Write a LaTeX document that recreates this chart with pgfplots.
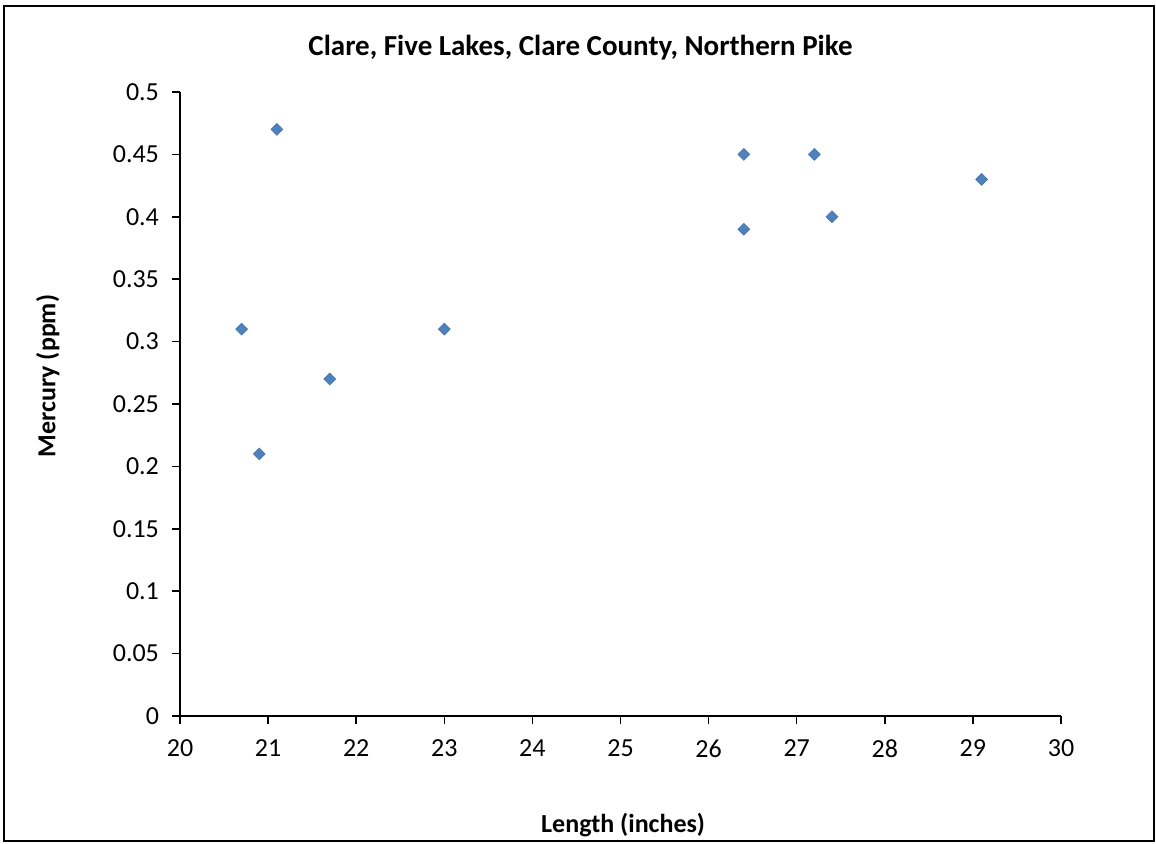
\documentclass[border=0pt]{standalone}
\usepackage{pgfplots}
\pgfplotsset{compat=1.18}
\usepackage{fontspec}
\setmainfont{Carlito}

\definecolor{ptblue}{HTML}{4F81BD}

\begin{document}
\begin{tikzpicture}
\begin{axis}[
    name=ax,
    scale only axis,
    width=440.5pt, height=312pt,
    xmin=20, xmax=30, ymin=0, ymax=0.5,
    xtick={20,21,...,30},
    ytick={0,0.05,...,0.5},
    yticklabels={0,0.05,0.1,0.15,0.2,0.25,0.3,0.35,0.4,0.45,0.5},
    axis x line*=bottom, axis y line*=left,
    axis line style={black, line width=0.75pt, -},
    tick style={black, line width=0.75pt},
    tick align=outside,
    major tick length=4pt,
    tick label style={font=\fontsize{13}{15}\selectfont},
    /pgf/number format/assume math mode=true,
    xticklabel style={yshift=-4.5pt},
    yticklabel style={xshift=-3pt},
    title={\textbf{Clare, Five Lakes, Clare County, Northern Pike}},
    title style={font=\fontsize{14.5}{17}\selectfont, at={(0.5,1)}, anchor=base, yshift=12pt, xshift=-20pt},
    xlabel={\textbf{Length (inches)}},
    ylabel={\textbf{Mercury (ppm)}},
    label style={font=\fontsize{13}{15}\selectfont},
    xlabel style={at={(0.503,0)}, anchor=base, yshift=-58pt},
    ylabel style={at={(0,0.545)}, anchor=base, yshift=62.3pt},
]
\addplot[only marks, mark=square*, mark size=2.1pt,
    mark options={rotate=45, fill=ptblue, draw=ptblue!90!black, line width=0.3pt}]
coordinates {
(20.7,0.31) (20.9,0.21) (21.1,0.47) (21.7,0.27) (23.0,0.31)
(26.4,0.45) (26.4,0.39) (27.2,0.45) (27.4,0.40) (29.1,0.43)
};
\end{axis}
\draw[black, line width=0.9pt]
    ([xshift=-88pt,yshift=-62.5pt]ax.south west)
    rectangle ([xshift=46.5pt,yshift=43pt]ax.north east);
\path ([xshift=-90pt,yshift=-63pt]ax.south west)
    rectangle ([xshift=47.5pt,yshift=46pt]ax.north east);
\end{tikzpicture}
\end{document}
